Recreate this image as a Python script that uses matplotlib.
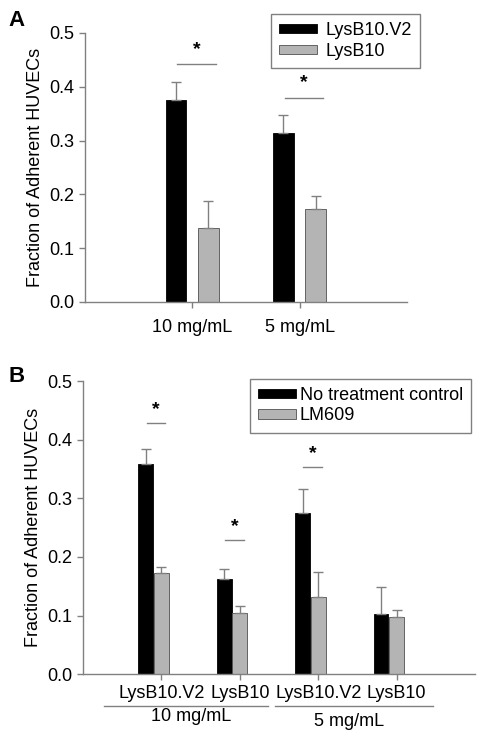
import matplotlib.pyplot as plt
from matplotlib.ticker import FormatStrFormatter

plt.rcParams['font.family'] = ['Liberation Sans', 'DejaVu Sans']

# Panel A data
dosis_a = ["10 mg/mL", "5 mg/mL"]
v2_a = [0.375, 0.314]
v2_err_a = [0.033, 0.033]
b10_a = [0.137, 0.172]
b10_err_a = [0.050, 0.025]
signif_a = [0.442, 0.380]

# Panel B data
grupos_b = ["LysB10.V2", "LysB10", "LysB10.V2", "LysB10"]
dosis_b = ["10 mg/mL", "5 mg/mL"]
control_b = [0.358, 0.163, 0.275, 0.102]
control_err_b = [0.026, 0.017, 0.041, 0.047]
lm609_b = [0.173, 0.105, 0.131, 0.097]
lm609_err_b = [0.010, 0.011, 0.043, 0.012]
signif_b = [0.428, 0.229, 0.354, None]

GRIS = '#b4b4b4'
LINEA = '#808080'
FS = 13

fig = plt.figure(figsize=(4.84, 7.38), dpi=100)


def estilo_ejes(ax):
    for lado in ['top', 'right']:
        ax.spines[lado].set_visible(False)
    for lado in ['left', 'bottom']:
        ax.spines[lado].set_color(LINEA)
        ax.spines[lado].set_linewidth(1.0)
    ax.tick_params(axis='both', colors=LINEA, labelcolor='black', labelsize=FS,
                   length=4, width=1.0)
    ax.set_ylim(0, 0.5)
    ax.set_yticks([0.0, 0.1, 0.2, 0.3, 0.4, 0.5])
    ax.yaxis.set_major_formatter(FormatStrFormatter('%.1f'))
    ax.set_ylabel("Fraction of Adherent HUVECs", fontsize=FS)


def leyenda(ax, barras, anchor, pad_texto):
    leg = ax.legend(handles=barras, loc='upper right', bbox_to_anchor=anchor,
                    bbox_transform=fig.transFigure, fontsize=FS, fancybox=False,
                    edgecolor=LINEA, framealpha=1, handlelength=2.1,
                    handleheight=0.4, handletextpad=pad_texto, labelspacing=0.2,
                    borderpad=0.45, borderaxespad=0)
    leg.get_frame().set_linewidth(1.0)


# Panel A
ax1 = fig.add_axes([0.1756, 0.5908, 0.665, 0.3645])
xa = [1, 2]
ancho = 0.19
err_kw = dict(ecolor=LINEA, elinewidth=1.0, capsize=3.5, capthick=1.0)
b1 = ax1.bar([x - 0.15 for x in xa], v2_a, ancho, color='black', edgecolor='black',
             linewidth=0.6, yerr=[[0, 0], v2_err_a], error_kw=err_kw,
             label="LysB10.V2")
b2 = ax1.bar([x + 0.15 for x in xa], b10_a, ancho, color=GRIS, edgecolor='#505050',
             linewidth=0.6, yerr=[[0, 0], b10_err_a], error_kw=err_kw,
             label="LysB10")
ax1.set_xlim(0, 3)
ax1.set_xticks(xa)
ax1.set_xticklabels(dosis_a)
estilo_ejes(ax1)
ax1.tick_params(axis='x', pad=8)
for x, y in zip(xa, signif_a):
    ax1.plot([x - 0.14, x + 0.22], [y, y], color=LINEA, lw=1.0)
    ax1.text(x + 0.04, y + 0.012, "*", ha='center', va='bottom', fontsize=14,
             fontweight='bold')
leyenda(ax1, [b1, b2], (420 / 484, 1 - 14 / 738), 0.45)
fig.text(8 / 484, 1 - 10 / 738, "A", fontsize=16, fontweight='bold', va='top',
         ha='left')

# Panel B
ax2 = fig.add_axes([0.1715, 0.0863, 0.81, 0.3974])
xb = [1, 2, 3, 4]
ancho_b = 0.19
c1 = ax2.bar([x - 0.2 for x in xb], control_b, ancho_b, color='black',
             edgecolor='black', linewidth=0.6, yerr=[[0] * 4, control_err_b],
             error_kw=err_kw, label="No treatment control")
c2 = ax2.bar(xb, lm609_b, ancho_b, color=GRIS, edgecolor='#505050', linewidth=0.6,
             yerr=[[0] * 4, lm609_err_b], error_kw=err_kw, label="LM609")
ax2.set_xlim(0, 5)
ax2.set_xticks(xb)
ax2.set_xticklabels(grupos_b)
estilo_ejes(ax2)
ax2.tick_params(axis='x', pad=4)
for x, y in zip(xb, signif_b):
    if y is None:
        continue
    ax2.plot([x - 0.19, x + 0.05], [y, y], color=LINEA, lw=1.0)
    ax2.text(x - 0.07, y + 0.008, "*", ha='center', va='bottom', fontsize=14,
             fontweight='bold')
leyenda(ax2, [c1, c2], (471 / 484, 1 - 378.7 / 738), 0.2)
fig.text(8 / 484, 1 - 366 / 738, "B", fontsize=16, fontweight='bold', va='top',
         ha='left')

# Etiquetas de dosis bajo el panel B
for (x0, x1), etiqueta, (xc, yc) in zip([(104, 268), (275, 433)], dosis_b,
                                        [(191, 716.7), (349, 721)]):
    fig.add_artist(plt.Line2D([x0 / 484, x1 / 484], [1 - 706 / 738] * 2,
                              color=LINEA, lw=1.0))
    fig.text(xc / 484, 1 - yc / 738, etiqueta, fontsize=FS,
             ha='center', va='center')

fig.savefig("out.png", dpi=100)
